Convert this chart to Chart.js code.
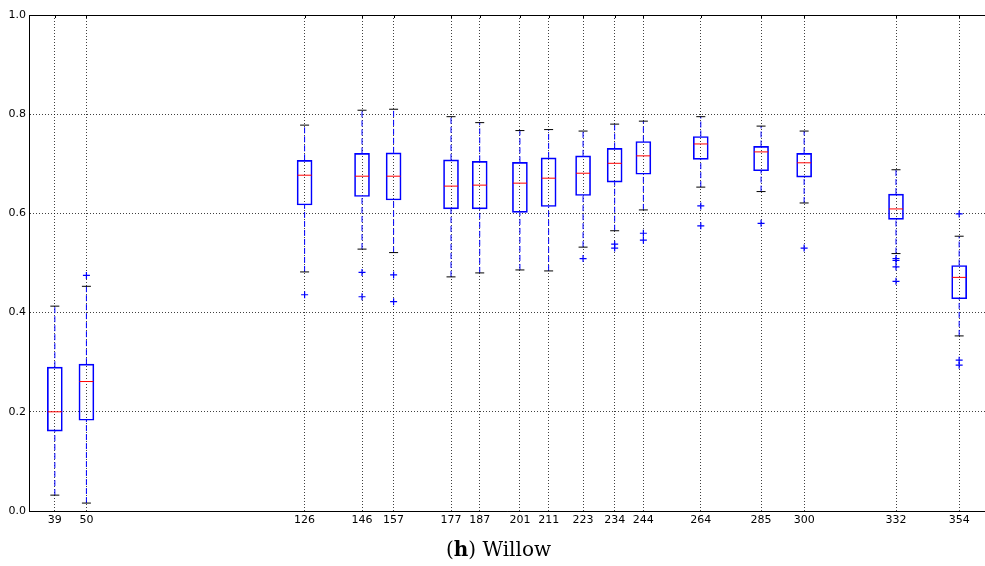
<!DOCTYPE html>
<html>
<head>
<meta charset="utf-8">
<title>Willow</title>
<script src="https://cdn.jsdelivr.net/npm/chart.js@4/dist/chart.umd.min.js"></script>
<style>
  html, body { margin: 0; padding: 0; background: #fff; }
  #wrap { position: relative; width: 985px; height: 566px; }
  #caption {
    position: absolute; left: 446px; top: 539px;
    font-family: "DejaVu Serif", serif; font-size: 20px; line-height: 20px;
    color: #000; white-space: nowrap;
  }
</style>
</head>
<body>
<div id="wrap">
  <canvas id="boxChart" width="985" height="566"></canvas>
  <div id="caption">(<b>h</b>) Willow</div>
</div>
<script>
const positions = [39, 50, 126, 146, 157, 177, 187, 201, 211, 223, 234, 244, 264, 285, 300, 332, 354];

const lowCap  = [0.032, 0.016, 0.482, 0.528, 0.521, 0.472, 0.480, 0.486, 0.484, 0.532, 0.565, 0.607, 0.653, 0.644, 0.621, 0.519, 0.353];
const q1      = [0.161, 0.183, 0.617, 0.634, 0.627, 0.609, 0.609, 0.602, 0.614, 0.636, 0.663, 0.679, 0.709, 0.686, 0.673, 0.588, 0.428];
const median  = [0.200, 0.261, 0.677, 0.675, 0.675, 0.655, 0.657, 0.661, 0.671, 0.681, 0.701, 0.716, 0.740, 0.724, 0.702, 0.609, 0.471];
const q3      = [0.290, 0.296, 0.707, 0.721, 0.722, 0.708, 0.705, 0.703, 0.712, 0.716, 0.731, 0.745, 0.755, 0.735, 0.721, 0.639, 0.495];
const highCap = [0.413, 0.453, 0.778, 0.808, 0.810, 0.795, 0.783, 0.767, 0.769, 0.766, 0.780, 0.786, 0.795, 0.776, 0.766, 0.688, 0.554];

const outliers = [
  [], [0.475], [0.436], [0.481, 0.432], [0.476, 0.422], [], [], [], [],
  [0.509], [0.538, 0.530], [0.560, 0.546], [0.615, 0.575], [0.580], [0.530],
  [0.509, 0.505, 0.492, 0.463], [0.599, 0.304, 0.294]
];

const yTicks = [0, 0.2, 0.4, 0.6, 0.8, 1.0];

// boxes are floating bars from q1 to q3
const boxes = positions.map((x, i) => ({ x: x, y: [q1[i], q3[i]] }));
const medians = positions.map((x, i) => ({ x: x, y: median[i] }));

const caps = [];
const whiskers = [];
positions.forEach((x, i) => {
  caps.push({ x: x, y: lowCap[i] }, { x: x, y: highCap[i] });
  // null points break the line between segments
  whiskers.push({ x: x, y: lowCap[i] }, { x: x, y: q1[i] }, { x: x, y: null });
  whiskers.push({ x: x, y: q3[i] }, { x: x, y: highCap[i] }, { x: x, y: null });
});

const fliers = [];
positions.forEach((x, i) => {
  outliers[i].forEach(v => fliers.push({ x: x, y: v }));
});

// solid top frame with small inward ticks
const frame = {
  id: "frame",
  afterDraw(chart) {
    const { ctx, chartArea, scales } = chart;
    ctx.save();
    ctx.strokeStyle = "#000";
    ctx.lineWidth = 1;
    ctx.beginPath();
    ctx.moveTo(chartArea.left, chartArea.top + 0.5);
    ctx.lineTo(chartArea.right, chartArea.top + 0.5);
    scales.x.ticks.forEach(t => {
      const px = Math.round(scales.x.getPixelForValue(t.value)) + 0.5;
      ctx.moveTo(px, chartArea.top);
      ctx.lineTo(px, chartArea.top + 3);
    });
    ctx.stroke();
    ctx.restore();
  }
};

new Chart(document.getElementById("boxChart"), {
  type: "bar",
  data: {
    datasets: [
      {
        type: "scatter",
        data: fliers,
        pointStyle: "cross",
        pointRadius: 3.5,
        pointBorderWidth: 1.2,
        borderColor: "#0000ff",
        backgroundColor: "#0000ff",
        order: 0
      },
      {
        type: "scatter",
        data: medians,
        pointStyle: "line",
        pointRadius: 7,
        pointBorderWidth: 1,
        borderColor: "#ff0000",
        order: 1
      },
      {
        type: "scatter",
        data: caps,
        pointStyle: "line",
        pointRadius: 4.5,
        pointBorderWidth: 1,
        borderColor: "#000000",
        order: 2
      },
      {
        type: "bar",
        data: boxes,
        barThickness: 15,
        borderWidth: 1,
        borderColor: "#0000ff",
        backgroundColor: "rgba(0,0,0,0)",
        borderSkipped: false,
        order: 3
      },
      {
        type: "line",
        data: whiskers,
        borderColor: "#0000ff",
        borderWidth: 1,
        borderDash: [6, 3],
        pointRadius: 0,
        spanGaps: false,
        fill: false,
        order: 4
      }
    ]
  },
  options: {
    responsive: false,
    animation: false,
    layout: { autoPadding: false, padding: { top: 15, right: 0, left: 0, bottom: 0 } },
    plugins: {
      legend: { display: false },
      tooltip: { enabled: false }
    },
    scales: {
      x: {
        type: "linear",
        min: 30,
        max: 363,
        offset: false,
        afterBuildTicks: axis => {
          axis.ticks = positions.map(v => ({ value: v }));
        },
        afterFit: axis => {
          axis.height = 55;
          axis.paddingLeft = 0;
          axis.paddingRight = 0;
        },
        ticks: {
          autoSkip: false,
          maxRotation: 0,
          padding: 3,
          color: "#000",
          font: { family: "DejaVu Sans", size: 11 },
          callback: v => String(v)
        },
        grid: { offset: false, drawTicks: false, color: "rgba(0,0,0,0.75)", lineWidth: 1 },
        border: { display: true, color: "#000", width: 1, dash: [1, 2] }
      },
      y: {
        min: 0,
        max: 1,
        afterBuildTicks: axis => {
          axis.ticks = yTicks.map(v => ({ value: v }));
        },
        afterFit: axis => { axis.width = 29; },
        ticks: {
          padding: 3,
          color: "#000",
          font: { family: "DejaVu Sans", size: 11 },
          callback: v => v.toFixed(1)
        },
        grid: { drawTicks: false, color: "rgba(0,0,0,0.75)", lineWidth: 1 },
        border: { display: true, color: "#000", width: 1, dash: [1, 2] }
      }
    }
  },
  plugins: [frame]
});
</script>
</body>
</html>
